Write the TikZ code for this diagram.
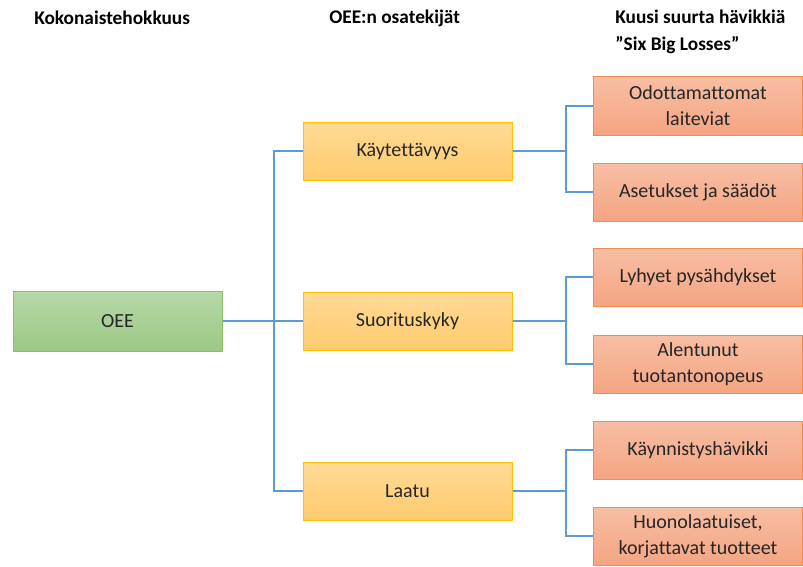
\documentclass[tikz,border=0pt]{standalone}
\usepackage{fontspec}
\setmainfont{Carlito}[Ligatures=NoCommon]
\usepackage{tikz}
\usetikzlibrary{positioning}

\definecolor{linkblue}{RGB}{91,155,213}
\definecolor{txtgray}{RGB}{38,38,38}

\tikzset{
    box/.style={rectangle, minimum width=156.75pt, minimum height=43.5pt, inner sep=0.75pt,
        line width=0.75pt, align=center, text=txtgray, font=\fontsize{15}{19.5}\selectfont},
    greenbox/.style={box, draw={rgb,255:red,140;green,190;blue,110}, minimum height=45pt,
        top color={rgb,255:red,183;green,216;blue,168}, bottom color={rgb,255:red,156;green,200;blue,132}},
    yellowbox/.style={box, draw={rgb,255:red,255;green,192;blue,0},
        top color={rgb,255:red,255;green,218;blue,150}, bottom color={rgb,255:red,255;green,203;blue,110}},
    orangebox/.style={box, draw={rgb,255:red,240;green,140;blue,80},
        top color={rgb,255:red,248;green,190;blue,164}, bottom color={rgb,255:red,244;green,165;blue,130}},
    header/.style={font=\bfseries\fontsize{14.5}{20}\selectfont, inner sep=0.75pt, align=left},
    link/.style={draw=linkblue, line width=1.5pt}
}

\begin{document}
\begin{tikzpicture}[x=0.75pt,y=0.75pt,yscale=-1,xscale=1]
        \useasboundingbox (0,0) rectangle (803,567);

        % otsikot
        \node [header, anchor=west] (h1) at (33,18) {Kokonaistehokkuus};
        \node [header, anchor=west] (h2) at (328,18) {OEE:n osatekijät};
        \node [header, anchor=north west] (h3) at (614,9) {Kuusi suurta hävikkiä\\”Six Big Losses”};

        % laatikot
        \node [greenbox] (oee) at (117.5,321) {OEE};

        \node [yellowbox] (kay) at (407.5,151) {Käytettävyys};
        \node [yellowbox] (suo) at (407.5,321) {Suorituskyky};
        \node [yellowbox] (laa) at (407.5,491) {Laatu};

        \node [orangebox] (odo) at (698,106) {Odottamattomat\\laiteviat};
        \node [orangebox] (ase) at (698,192) {Asetukset ja säädöt};
        \node [orangebox] (lyh) at (698,277) {Lyhyet pysähdykset};
        \node [orangebox] (ale) at (698,364) {Alentunut\\tuotantonopeus};
        \node [orangebox] (kai) at (698,450) {Käynnistyshävikki};
        \node [orangebox] (huo) at (698,536) {Huonolaatuiset,\\korjattavat tuotteet};

        % yhteydet
        \draw [link] (oee.east) -- ++(51,0) coordinate (trunk) -- (suo.west);
        \draw [link] (kay.west) -| (trunk) |- (laa.west);

        \draw [link] (kay.east) -- ++(53,0) coordinate (b1);
        \draw [link] (odo.west) -| (b1) |- (ase.west);
        \draw [link] (suo.east) -- ++(53,0) coordinate (b2);
        \draw [link] (lyh.west) -| (b2) |- (ale.west);
        \draw [link] (laa.east) -- ++(53,0) coordinate (b3);
        \draw [link] (kai.west) -| (b3) |- (huo.west);

    \end{tikzpicture}
\end{document}
